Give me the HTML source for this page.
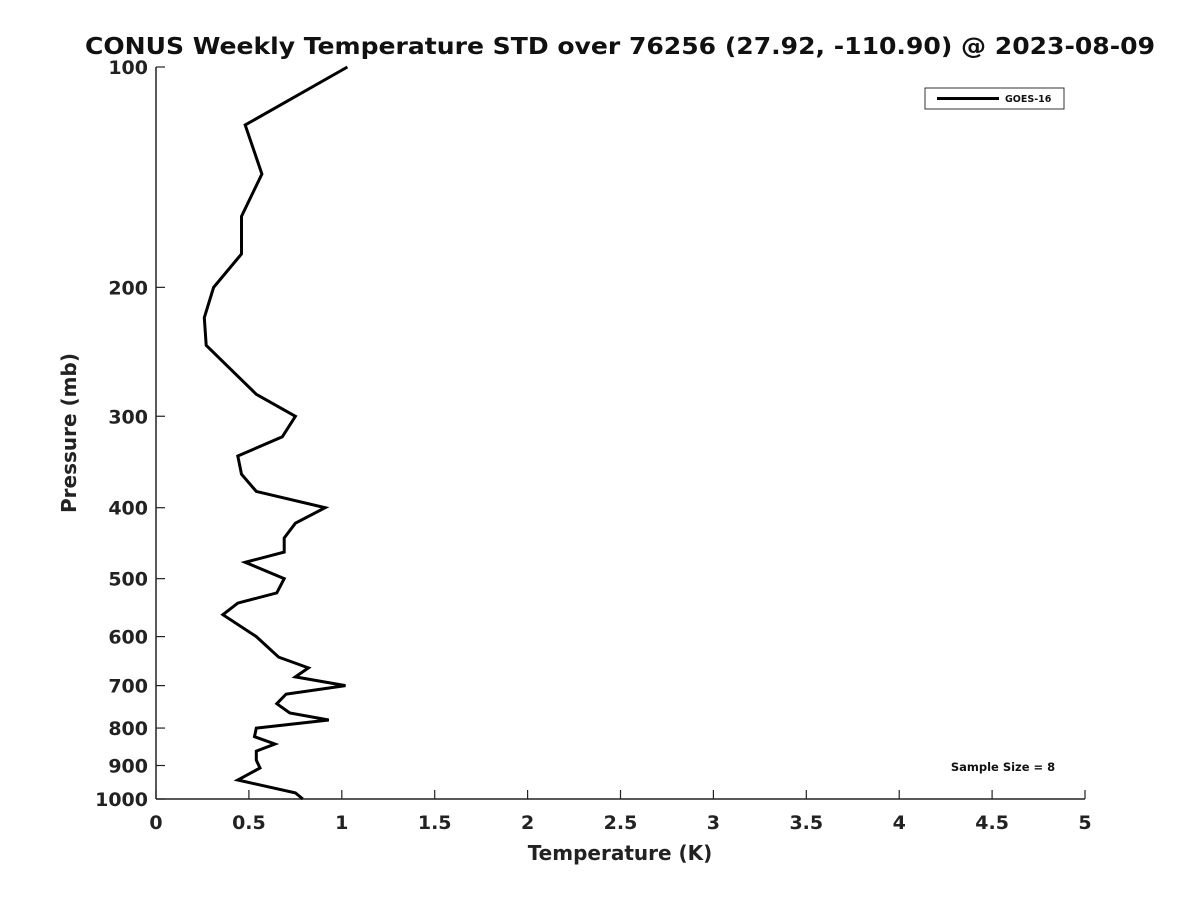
<!DOCTYPE html>
<html><head><meta charset="utf-8"><style>
body{margin:0;background:#fff;}
svg{display:block;font-family:"DejaVu Sans","Liberation Sans",sans-serif;}
</style></head><body>
<svg id="chart" width="1200" height="900" viewBox="0 0 1200 900">
<rect width="1200" height="900" fill="#fff"/>
<text x="620" y="54" text-anchor="middle" font-size="23" font-weight="bold" fill="#111" textLength="1070" lengthAdjust="spacingAndGlyphs">CONUS Weekly Temperature STD over 76256 (27.92, -110.90) @ 2023-08-09</text>
<g id="axes"></g>
<g id="series"></g>
<g>
<rect x="925" y="88" width="139" height="21" fill="#fff" stroke="#333" stroke-width="1"/>
<line x1="937" y1="98.5" x2="999" y2="98.5" stroke="#000" stroke-width="3"/>
<text x="1005" y="102" font-size="9.5" font-weight="bold" fill="#111">GOES-16</text>
</g>
<text x="1003" y="771" text-anchor="middle" font-size="11.5" font-weight="bold" fill="#111">Sample Size = 8</text>
<text x="620" y="860" text-anchor="middle" font-size="20" font-weight="bold" fill="#222">Temperature (K)</text>
<text transform="translate(76,433) rotate(-90)" text-anchor="middle" font-size="20" font-weight="bold" fill="#222">Pressure (mb)</text>
</svg>
<script>
const pressures=[100,120,140,160,180,200,220,240,280,300,320,340,360,380,400,420,440,460,475,500,523,540,560,600,640,662,681,700,719,741,763,780,800,822,841,860,885,907,942,981,1000];
const temps=[1.03,0.48,0.57,0.46,0.46,0.31,0.26,0.27,0.54,0.75,0.68,0.44,0.46,0.54,0.91,0.75,0.69,0.69,0.48,0.69,0.65,0.44,0.36,0.54,0.66,0.82,0.75,1.02,0.70,0.65,0.72,0.93,0.54,0.53,0.64,0.54,0.54,0.56,0.44,0.75,0.79];
const xTicks=[0,0.5,1,1.5,2,2.5,3,3.5,4,4.5,5];
const xTickLabels=["0","0.5","1","1.5","2","2.5","3","3.5","4","4.5","5"];
const yTicks=[100,200,300,400,500,600,700,800,900,1000];
const yTickLabels=["100","200","300","400","500","600","700","800","900","1000"];
const L=156,R=1085,T=67,B=799;
const xs=v=>L+v/5*(R-L);
const ys=p=>T+(Math.log10(p)-2)*(B-T);
const NS="http://www.w3.org/2000/svg";
const ax=document.getElementById('axes'),se=document.getElementById('series');
function mk(tag,attrs,parent,txt){const e=document.createElementNS(NS,tag);for(const k in attrs)e.setAttribute(k,attrs[k]);if(txt!==undefined)e.textContent=txt;parent.appendChild(e);return e;}
let a=mk('line',{x1:L,y1:B,x2:R,y2:B,stroke:'#222','stroke-width':1.5},ax);


a=mk('line',{x1:L,y1:T,x2:L,y2:B,stroke:'#222','stroke-width':1.5},ax);


xTicks.forEach((v,i)=>{const x=xs(v);
const t=mk('line',{x1:x,y1:B,x2:x,y2:B-9,stroke:'#222','stroke-width':1.2},ax);


const l=mk('text',{x:x,y:B+30,'text-anchor':'middle','font-size':19,'font-weight':'bold',fill:'#222'},ax,xTickLabels[i]);

});
yTicks.forEach((p,i)=>{const y=ys(p);
const t=mk('line',{x1:L,y1:y,x2:L+9,y2:y,stroke:'#222','stroke-width':1.2},ax);


const l=mk('text',{x:L-8,y:y+7,'text-anchor':'end','font-size':19,'font-weight':'bold',fill:'#222'},ax,yTickLabels[i]);

});
const pts=pressures.map((p,i)=>xs(temps[i]).toFixed(1)+','+ys(p).toFixed(1)).join(' ');
const pl=mk('polyline',{points:pts,fill:'none',stroke:'#000','stroke-width':3,'stroke-linejoin':'miter'},se);


</script>
</body></html>
